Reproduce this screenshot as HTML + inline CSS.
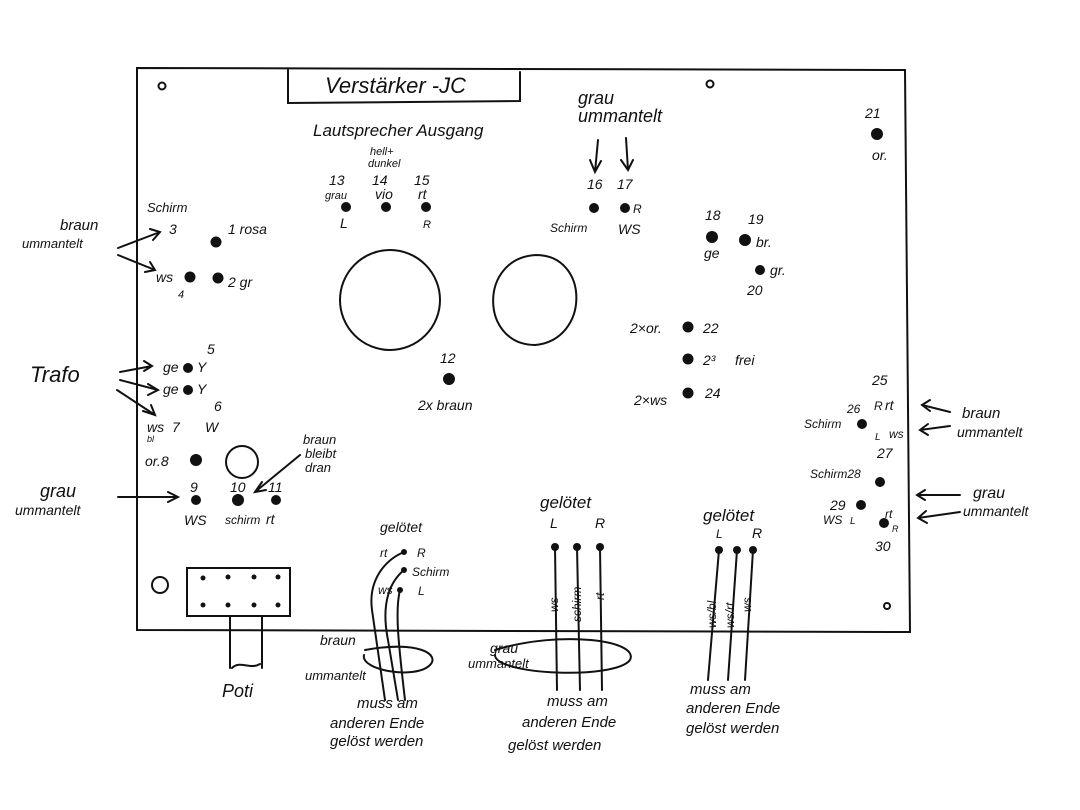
<!DOCTYPE html>
<html><head><meta charset="utf-8"><style>
html,body{margin:0;padding:0;background:#fff}
svg{display:block}
text{font-family:"Liberation Sans",sans-serif;font-style:italic;fill:#111}
</style></head><body>
<svg width="1080" height="810" viewBox="0 0 1080 810" xmlns="http://www.w3.org/2000/svg">
<g stroke="#111" stroke-width="2" fill="none" stroke-linecap="round">
<path d="M137,68 L905,70 L910,632 L137,630 Z"/>
<path d="M288,70 L288,103 L520,101 L520,72"/>
<circle cx="162" cy="86" r="3.5"/><circle cx="710" cy="84" r="3.5"/><circle cx="887" cy="606" r="3"/>
<circle cx="160" cy="585" r="8"/>
<circle cx="390" cy="300" r="50"/>
<path d="M536,255 C590,255 590,340 535,345 C480,345 478,258 536,255 Z"/>
<circle cx="242" cy="462" r="16"/>
<rect x="187" y="568" width="103" height="48"/>
<path d="M230,616 L230,668 M262,616 L262,668"/>
<path d="M232,668 C240,660 250,670 260,664"/>
<path d="M118,248 L160,232 M150,229 L160,232 L153,240"/>
<path d="M118,255 L155,270 M145,272 L155,270 L150,262"/>
<path d="M120,372 L152,366 M144,361 L152,366 L144,371"/>
<path d="M120,380 L158,390 M148,384 L158,390 L148,395"/>
<path d="M117,390 L155,415 M143,411 L155,415 L151,405"/>
<path d="M118,497 L178,497 M168,492 L178,497 L168,502"/>
<path d="M300,455 L255,492 M262,482 L255,492 L266,490"/>
<path d="M598,140 L595,172 M590,160 L595,172 L601,161"/>
<path d="M626,138 L628,170 M621,160 L628,170 L633,160"/>
<path d="M950,412 L922,405 M930,400 L922,405 L930,411"/>
<path d="M950,426 L920,430 M928,424 L920,430 L928,435"/>
<path d="M960,495 L917,495 M925,490 L917,495 L925,500"/>
<path d="M960,512 L918,518 M926,511 L918,518 L927,523"/>
<path d="M404,552 C385,560 368,580 372,610 L385,700"/>
<path d="M404,570 C392,580 380,600 388,640 L398,700"/>
<path d="M400,590 C395,610 398,640 405,700"/>
<path d="M365,650 C420,640 440,655 430,665 C415,680 360,670 364,655"/>
<path d="M555,547 L557,690 M577,547 L580,690 M600,547 L602,690"/>
<path d="M495,650 C560,630 640,640 630,660 C615,680 495,675 495,655"/>
<path d="M719,550 L708,680 M737,550 L728,680 M753,550 L745,680"/>
</g>
<g fill="#111">
<circle cx="216" cy="242" r="5.5"/><circle cx="190" cy="277" r="5.5"/><circle cx="218" cy="278" r="5.5"/>
<circle cx="188" cy="368" r="5"/><circle cx="188" cy="390" r="5"/><circle cx="196" cy="460" r="6"/>
<circle cx="196" cy="500" r="5"/><circle cx="238" cy="500" r="6"/><circle cx="276" cy="500" r="5"/>
<circle cx="346" cy="207" r="5"/><circle cx="386" cy="207" r="5"/><circle cx="426" cy="207" r="5"/>
<circle cx="594" cy="208" r="5"/><circle cx="625" cy="208" r="5"/>
<circle cx="449" cy="379" r="6"/>
<circle cx="877" cy="134" r="6"/>
<circle cx="712" cy="237" r="6"/><circle cx="745" cy="240" r="6"/><circle cx="760" cy="270" r="5"/>
<circle cx="688" cy="327" r="5.5"/><circle cx="688" cy="359" r="5.5"/><circle cx="688" cy="393" r="5.5"/>
<circle cx="862" cy="424" r="5"/><circle cx="880" cy="482" r="5"/><circle cx="861" cy="505" r="5"/><circle cx="884" cy="523" r="5"/>
<circle cx="555" cy="547" r="4"/><circle cx="577" cy="547" r="4"/><circle cx="600" cy="547" r="4"/>
<circle cx="719" cy="550" r="4"/><circle cx="737" cy="550" r="4"/><circle cx="753" cy="550" r="4"/>
<circle cx="404" cy="552" r="3"/><circle cx="404" cy="570" r="3"/><circle cx="400" cy="590" r="3"/>
<circle cx="203" cy="578" r="2.5"/><circle cx="228" cy="577" r="2.5"/><circle cx="254" cy="577" r="2.5"/><circle cx="278" cy="577" r="2.5"/>
<circle cx="203" cy="605" r="2.5"/><circle cx="228" cy="605" r="2.5"/><circle cx="254" cy="605" r="2.5"/><circle cx="278" cy="605" r="2.5"/>
</g>
<g font-size="14">
<text x="325" y="93" font-size="22">Verstärker -JC</text>
<text x="313" y="136" font-size="17">Lautsprecher Ausgang</text>
<text x="578" y="104" font-size="18">grau</text><text x="578" y="122" font-size="18">ummantelt</text>
<text x="370" y="155" font-size="11">hell+</text><text x="368" y="167" font-size="11">dunkel</text>
<text x="329" y="185">13</text><text x="372" y="185">14</text><text x="414" y="185">15</text>
<text x="325" y="199" font-size="11">grau</text><text x="375" y="199">vio</text><text x="418" y="199">rt</text>
<text x="340" y="228">L</text><text x="423" y="228" font-size="11">R</text>
<text x="587" y="189">16</text><text x="617" y="189">17</text>
<text x="550" y="232" font-size="12">Schirm</text><text x="633" y="213" font-size="12">R</text><text x="618" y="234">WS</text>
<text x="865" y="118">21</text><text x="872" y="160">or.</text>
<text x="705" y="220">18</text><text x="748" y="224">19</text>
<text x="704" y="258">ge</text><text x="756" y="247">br.</text><text x="770" y="275">gr.</text><text x="747" y="295">20</text>
<text x="630" y="333">2×or.</text><text x="703" y="333">22</text>
<text x="703" y="365">2³</text><text x="735" y="365">frei</text>
<text x="634" y="405">2×ws</text><text x="705" y="398">24</text>
<text x="440" y="363">12</text><text x="418" y="410">2x braun</text>
<text x="147" y="212" font-size="13">Schirm</text><text x="169" y="234">3</text><text x="228" y="234">1 rosa</text>
<text x="156" y="282">ws</text><text x="178" y="298" font-size="11">4</text><text x="228" y="287">2 gr</text>
<text x="60" y="230" font-size="15">braun</text><text x="22" y="248" font-size="13">ummantelt</text>
<text x="30" y="382" font-size="22">Trafo</text>
<text x="207" y="354">5</text><text x="163" y="372">ge</text><text x="197" y="372">Y</text>
<text x="163" y="394">ge</text><text x="197" y="394">Y</text><text x="214" y="411">6</text>
<text x="147" y="432">ws</text><text x="147" y="442" font-size="9">bl</text><text x="172" y="432">7</text><text x="205" y="432">W</text>
<text x="145" y="466">or.8</text>
<text x="303" y="444" font-size="13">braun</text><text x="305" y="458" font-size="13">bleibt</text><text x="305" y="472" font-size="13">dran</text>
<text x="190" y="492">9</text><text x="230" y="492">10</text><text x="268" y="492">11</text>
<text x="184" y="525">WS</text><text x="225" y="524" font-size="12">schirm</text><text x="266" y="524">rt</text>
<text x="40" y="497" font-size="18">grau</text><text x="15" y="515" font-size="14">ummantelt</text>
<text x="380" y="532">gelötet</text>
<text x="380" y="557" font-size="12">rt</text><text x="417" y="557" font-size="12">R</text>
<text x="412" y="576" font-size="12">Schirm</text><text x="378" y="594" font-size="12">ws</text><text x="418" y="595" font-size="12">L</text>
<text x="540" y="508" font-size="17">gelötet</text><text x="550" y="528">L</text><text x="595" y="528">R</text>
<text x="703" y="521" font-size="17">gelötet</text><text x="716" y="538" font-size="12">L</text><text x="752" y="538">R</text>
<text x="320" y="645">braun</text><text x="305" y="680" font-size="13">ummantelt</text>
<text x="490" y="653">grau</text><text x="468" y="668" font-size="13">ummantelt</text>
<text x="222" y="697" font-size="18">Poti</text>
<text x="357" y="708" font-size="15">muss am</text><text x="330" y="728" font-size="15">anderen Ende</text><text x="330" y="746" font-size="15">gelöst werden</text>
<text x="547" y="706" font-size="15">muss am</text><text x="522" y="727" font-size="15">anderen Ende</text><text x="508" y="750" font-size="15">gelöst werden</text>
<text x="690" y="694" font-size="15">muss am</text><text x="686" y="713" font-size="15">anderen Ende</text><text x="686" y="733" font-size="15">gelöst werden</text>
<text x="872" y="385">25</text><text x="847" y="413" font-size="12">26</text><text x="874" y="410" font-size="12">R</text><text x="885" y="410">rt</text>
<text x="804" y="428" font-size="12">Schirm</text><text x="875" y="440" font-size="10">L</text><text x="889" y="438" font-size="12">ws</text><text x="877" y="458">27</text>
<text x="810" y="478" font-size="12">Schirm28</text>
<text x="830" y="510">29</text><text x="823" y="524" font-size="12">WS</text><text x="850" y="524" font-size="10">L</text><text x="885" y="518" font-size="12">rt</text><text x="892" y="532" font-size="9">R</text><text x="875" y="551">30</text>
<text x="962" y="418" font-size="15">braun</text><text x="957" y="437" font-size="14">ummantelt</text>
<text x="973" y="498" font-size="16">grau</text><text x="963" y="516" font-size="14">ummantelt</text>
</g>
<g font-size="12">
<text transform="translate(558,612) rotate(-90)">ws</text>
<text transform="translate(581,622) rotate(-90)">schirm</text>
<text transform="translate(604,600) rotate(-90)">rt</text>
<text transform="translate(716,628) rotate(-90)">ws/bl</text>
<text transform="translate(734,628) rotate(-90)">ws/rt</text>
<text transform="translate(751,612) rotate(-90)">ws</text>
</g>
</svg>
</body></html>
